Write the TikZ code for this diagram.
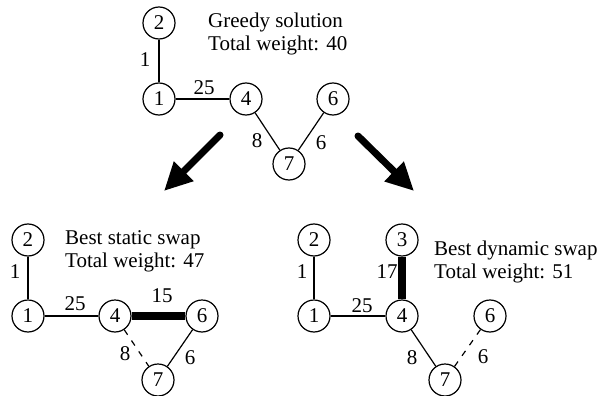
\documentclass[tikz,border=0pt]{standalone}
\usepackage{fontspec}
\setmainfont{Liberation Serif}
\usepackage{tikz}
\usetikzlibrary{arrows.meta,positioning}

\begin{document}
\begin{tikzpicture}[x=1pt,y=-1pt,
    font=\fontsize{21}{23}\selectfont,
    vtx/.style={circle,draw,line width=1.2pt,minimum size=32pt,inner sep=0pt},
    edge/.style={line width=1.2pt},
    swapedge/.style={line width=8pt},
    cutedge/.style={line width=1.2pt,dash pattern=on 6pt off 7pt},
    bigarrow/.style={line width=7pt,line cap=round,-{Triangle[length=28pt,width=26pt]}},
    info/.style={anchor=west,align=left,inner sep=0pt}]
  \useasboundingbox (0,0) rectangle (605,396);

  % greedy solution
  \foreach \n/\x/\y in {2/159/23, 1/159/99, 4/246/99, 6/333/99, 7/289/164}{
    \node[vtx] (g\n) at (\x,\y) {\n};
  }
  \draw[edge] (g2) -- (g1);
  \draw[edge] (g1) -- (g4);
  \draw[edge] (g4) -- (g7);
  \draw[edge] (g7) -- (g6);
  \node (g21) at (145,60) {1};
  \node (g14) at (204,88) {25};
  \node (g47) at (257,141) {8};
  \node (g76) at (321,143) {6};
  \node[info] (ginfo) at (208,34) {Greedy solution\\Total weight: 40};

  % arrows
  \coordinate (la) at (220,135);
  \coordinate (lb) at (164,191);
  \coordinate (ra) at (358,136);
  \coordinate (rb) at (414,191);
  \draw[bigarrow] (la) -- (lb);
  \draw[bigarrow] (ra) -- (rb);

  % best static swap
  \foreach \n/\x/\y in {2/28/240, 1/28/316, 4/115/316, 6/202/316, 7/158/380}{
    \node[vtx] (s\n) at (\x,\y) {\n};
  }
  \draw[edge] (s2) -- (s1);
  \draw[edge] (s1) -- (s4);
  \draw[swapedge] (s4) -- (s6);
  \draw[cutedge] (s4) -- (s7);
  \draw[edge] (s7) -- (s6);
  \node (s21) at (15,272) {1};
  \node (s14) at (75,304) {25};
  \node (s46) at (162,296) {15};
  \node (s47) at (125,354) {8};
  \node (s76) at (190,358) {6};
  \node[info] (sinfo) at (65,251) {Best static swap\\Total weight: 47};

  % best dynamic swap
  \foreach \n/\x/\y in {2/314/240, 3/402/240, 1/314/316, 4/402/316, 6/490/316, 7/445/380}{
    \node[vtx] (d\n) at (\x,\y) {\n};
  }
  \draw[edge] (d2) -- (d1);
  \draw[swapedge] (d3) -- (d4);
  \draw[edge] (d1) -- (d4);
  \draw[edge] (d4) -- (d7);
  \draw[cutedge] (d7) -- (d6);
  \node (d21) at (302,272) {1};
  \node (d34) at (387,272) {17};
  \node (d14) at (362,306) {25};
  \node (d47) at (412,358) {8};
  \node (d76) at (483,357) {6};
  \node[info] (dinfo) at (434,262) {Best dynamic swap\\Total weight: 51};
\end{tikzpicture}
\end{document}
